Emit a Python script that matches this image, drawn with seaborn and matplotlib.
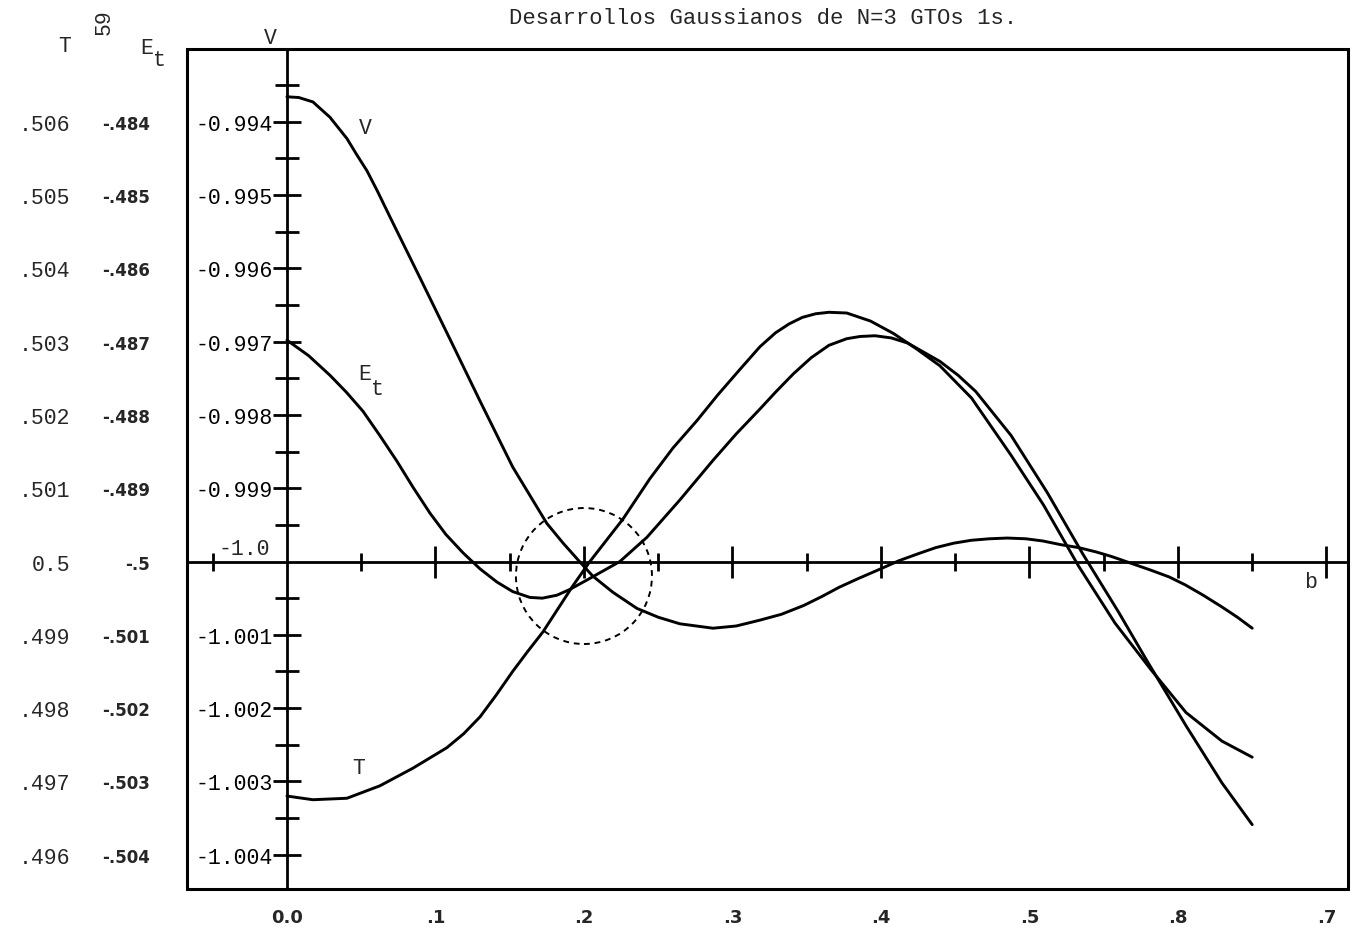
import numpy as np
import pandas as pd
import matplotlib
matplotlib.use("Agg")
import matplotlib.pyplot as plt
import seaborn as sns
from matplotlib.patches import Ellipse, Rectangle

# ---------------- data ----------------
b_V = [0.000, 0.008, 0.0175, 0.029, 0.0404, 0.047, 0.0539, 0.061, 0.0694, 0.0896,
       0.1118, 0.130, 0.152, 0.175, 0.186, 0.197, 0.206, 0.2195, 0.2357, 0.250,
       0.2646, 0.2869, 0.3025, 0.3185, 0.333, 0.348, 0.360, 0.372, 0.385, 0.3987,
       0.412, 0.4256, 0.437, 0.449, 0.461, 0.473, 0.485, 0.4976, 0.509, 0.521,
       0.533, 0.545, 0.555, 0.565, 0.582, 0.594, 0.605, 0.617, 0.6296, 0.640, 0.650]
V_vals = [-0.99366, -0.99367, -0.99373, -0.99394, -0.99423, -0.99445, -0.99467, -0.99495,
          -0.99530, -0.99613, -0.99705, -0.99781, -0.99871, -0.99948, -0.99975, -1.00000,
          -1.00020, -1.00042, -1.00064, -1.00076, -1.00085, -1.00091, -1.00088, -1.00080,
          -1.00072, -1.00060, -1.00048, -1.00035, -1.00023, -1.00011, -0.99999, -0.99989,
          -0.99981, -0.99975, -0.99971, -0.99969, -0.99968, -0.99969, -0.99972, -0.99977,
          -0.99981, -0.99987, -0.99993, -1.00000, -1.00012, -1.00021, -1.00032, -1.00046,
          -1.00062, -1.00076, -1.00091]

b_T = [0.000, 0.0175, 0.0404, 0.0626, 0.0848, 0.1077, 0.119, 0.130, 0.141, 0.152,
       0.162, 0.1724, 0.1926, 0.204, 0.2263, 0.2444, 0.260, 0.276, 0.290, 0.305,
       0.3185, 0.329, 0.338, 0.347, 0.356, 0.365, 0.377, 0.393, 0.4085, 0.424,
       0.4397, 0.461, 0.4876, 0.5095, 0.533, 0.5576, 0.5816, 0.6054, 0.6296, 0.650]
T_vals = [0.49680, 0.49675, 0.49677, 0.49694, 0.49718, 0.49746, 0.49765, 0.49788, 0.49818,
          0.49850, 0.49877, 0.49904, 0.49967, 0.50000, 0.50058, 0.50113, 0.50155, 0.50192,
          0.50227, 0.50262, 0.50293, 0.50312, 0.50324, 0.50333, 0.50338, 0.50340, 0.50339,
          0.50328, 0.50311, 0.50290, 0.50267, 0.50223, 0.50145, 0.50077, 0.49994, 0.49916,
          0.49853, 0.49794, 0.49755, 0.49733]

b_E = [0.000, 0.0145, 0.029, 0.040, 0.0512, 0.0625, 0.074, 0.085, 0.0963, 0.107,
       0.1185, 0.130, 0.1414, 0.152, 0.1636, 0.172, 0.1818, 0.1906, 0.204, 0.2242,
       0.2424, 0.2646, 0.2869, 0.3025, 0.3185, 0.329, 0.341, 0.353, 0.365, 0.377,
       0.386, 0.396, 0.407, 0.418, 0.4397, 0.452, 0.4638, 0.4876, 0.512, 0.536,
       0.560, 0.579, 0.6054, 0.6296, 0.650]
E_vals = [-0.49698, -0.49719, -0.49746, -0.49769, -0.49795, -0.49828, -0.49863, -0.49899,
          -0.49934, -0.49963, -0.49988, -0.50010, -0.50028, -0.50041, -0.50049, -0.50050,
          -0.50046, -0.50038, -0.50023, -0.50000, -0.49967, -0.49916, -0.49862, -0.49826,
          -0.49792, -0.49769, -0.49744, -0.49722, -0.49705, -0.49696, -0.49693, -0.49692,
          -0.49695, -0.49702, -0.49727, -0.49746, -0.49768, -0.49828, -0.49906, -0.49990,
          -0.50069, -0.50135, -0.50224, -0.50302, -0.50359]

V_ticks = [-0.994, -0.995, -0.996, -0.997, -0.998, -0.999, -1.001, -1.002, -1.003, -1.004]
V_labels = ["-0.994", "-0.995", "-0.996", "-0.997", "-0.998", "-0.999",
            "-1.001", "-1.002", "-1.003", "-1.004"]
T_ticks = [0.506, 0.505, 0.504, 0.503, 0.502, 0.501, 0.500, 0.499, 0.498, 0.497, 0.496]
T_labels = [".506", ".505", ".504", ".503", ".502", ".501", "0.5", ".499", ".498", ".497", ".496"]
E_ticks = [-0.494, -0.495, -0.496, -0.497, -0.498, -0.499, -0.500, -0.501, -0.502, -0.503, -0.504]
E_labels = ["-.484", "-.485", "-.486", "-.487", "-.488", "-.489", "-.5",
            "-.501", "-.502", "-.503", "-.504"]
b_ticks = [0.0, 0.1, 0.2, 0.3, 0.4, 0.5, 0.6, 0.7]
b_labels = ["0.0", ".1", ".2", ".3", ".4", ".5", ".8", ".7"]

title = "Desarrollos Gaussianos de N=3 GTOs 1s."

# ---------------- figure ----------------
sns.set_style("white")
plt.rcParams['font.family'] = ['Liberation Mono', 'DejaVu Sans Mono', 'DejaVu Sans']

W, H = 1358, 937
fig = plt.figure(figsize=(W / 100, H / 100), dpi=100)
ax = fig.add_axes([187 / W, 1 - 890 / H, (1348 - 187) / W, (890 - 50) / H])

# all curves are drawn on the V scale (T = V + 1.5, E_t = V + 0.5 on the same grid)
df = pd.concat([
    pd.DataFrame({"b": b_V, "y": V_vals, "curve": "V"}),
    pd.DataFrame({"b": b_T, "y": np.array(T_vals) - 1.5, "curve": "T"}),
    pd.DataFrame({"b": b_E, "y": np.array(E_vals) - 0.5, "curve": "E"}),
], ignore_index=True)
sns.lineplot(data=df, x="b", y="y", units="curve", estimator=None, sort=False,
             color="black", linewidth=2.1, ax=ax, legend=False,
             solid_joinstyle="round", solid_capstyle="round")

ax.set_xlim(-0.0673, 0.7145)
ax.set_ylim(-1.004468, -0.993008)
ax.set_xlabel("")
ax.set_ylabel("")

# axes through the origin (b=0, V=-1.0)
for s in ["top", "right"]:
    ax.spines[s].set_visible(False)
ax.spines["left"].set_position(("data", 0.0))
ax.spines["bottom"].set_position(("data", -1.0))
for s in ["left", "bottom"]:
    ax.spines[s].set_linewidth(2.0)
    ax.spines[s].set_color("black")
ax.add_patch(Rectangle((0, 0), 1, 1, transform=ax.transAxes, fill=False,
                       lw=2.2, color="black", clip_on=False, zorder=5))

# V ticks
ax.set_yticks(V_ticks, labels=V_labels)
ax.set_yticks([-0.9935 - 0.001 * i for i in range(11)], minor=True)
ax.tick_params(axis="y", which="both", left=True, right=False)
ax.tick_params(axis="y", which="major", direction="inout", length=20, width=2,
               pad=0, labelsize=15.5, colors="black")
ax.tick_params(axis="y", which="minor", direction="inout", length=17, width=2, colors="black")

# b ticks on the horizontal axis
ax.set_xticks([0.1, 0.2, 0.3, 0.4, 0.5, 0.6, 0.7])
ax.set_xticks([-0.05, 0.05, 0.15, 0.25, 0.35, 0.45, 0.55, 0.65], minor=True)
ax.tick_params(axis="x", which="both", bottom=True, top=False)
ax.tick_params(axis="x", which="major", direction="inout", length=23, width=2,
               labelbottom=False, colors="black")
ax.tick_params(axis="x", which="minor", direction="inout", length=13, width=2, colors="black")

# b labels below frame
secx = ax.secondary_xaxis(0)
secx.set_xticks(b_ticks, labels=b_labels, fontweight="bold", fontfamily="DejaVu Sans")
secx.tick_params(length=0, pad=14, labelsize=13)
for s in secx.spines.values():
    s.set_visible(False)

# T and E_t scales on the left
secT = ax.secondary_yaxis(-0.1008, functions=(lambda v: v + 1.5, lambda t: t - 1.5))
secT.set_yticks(T_ticks, labels=T_labels)
secT.tick_params(length=0, pad=0, labelsize=15.5)
for s in secT.spines.values():
    s.set_visible(False)

secE = ax.secondary_yaxis(-0.0319, functions=(lambda v: v + 0.5, lambda e: e - 0.5))
secE.set_yticks(E_ticks, labels=E_labels, fontweight="bold", fontfamily="DejaVu Sans")
secE.tick_params(length=0, pad=0, labelsize=12)
for s in secE.spines.values():
    s.set_visible(False)

# dashed circle around the crossing
circle_center = (0.2, -1.000198)
ax.add_patch(Ellipse(circle_center, width=0.0916, height=0.001855, fill=False,
                     ls=(0, (3, 2.5)), lw=1.4, color="black"))

# texts
def px(x, y):
    return x / W, 1 - y / H

fs = 15.5
fig.text(*px(763, 19), title, ha="center", va="center", fontsize=16)
fig.text(*px(270, 38), "V", ha="center", va="center", fontsize=fs)
fig.text(*px(65, 46), "T", ha="center", va="center", fontsize=fs)
fig.text(*px(104, 22), "59", ha="center", va="center", fontsize=fs, rotation=90)
fig.text(*px(147, 48), "E", ha="center", va="center", fontsize=fs)
fig.text(*px(159, 61), "t", ha="center", va="center", fontsize=fs)
fig.text(*px(365, 128), "V", ha="center", va="center", fontsize=fs)
fig.text(*px(365, 375), "E", ha="center", va="center", fontsize=fs)
fig.text(*px(377, 390), "t", ha="center", va="center", fontsize=fs)
fig.text(*px(359, 769), "T", ha="center", va="center", fontsize=fs)
fig.text(*px(244, 550), "-1.0", ha="center", va="center", fontsize=fs)
fig.text(*px(1311, 583), "b", ha="center", va="center", fontsize=fs)

fig.savefig("out.png", dpi=100, facecolor="white")
